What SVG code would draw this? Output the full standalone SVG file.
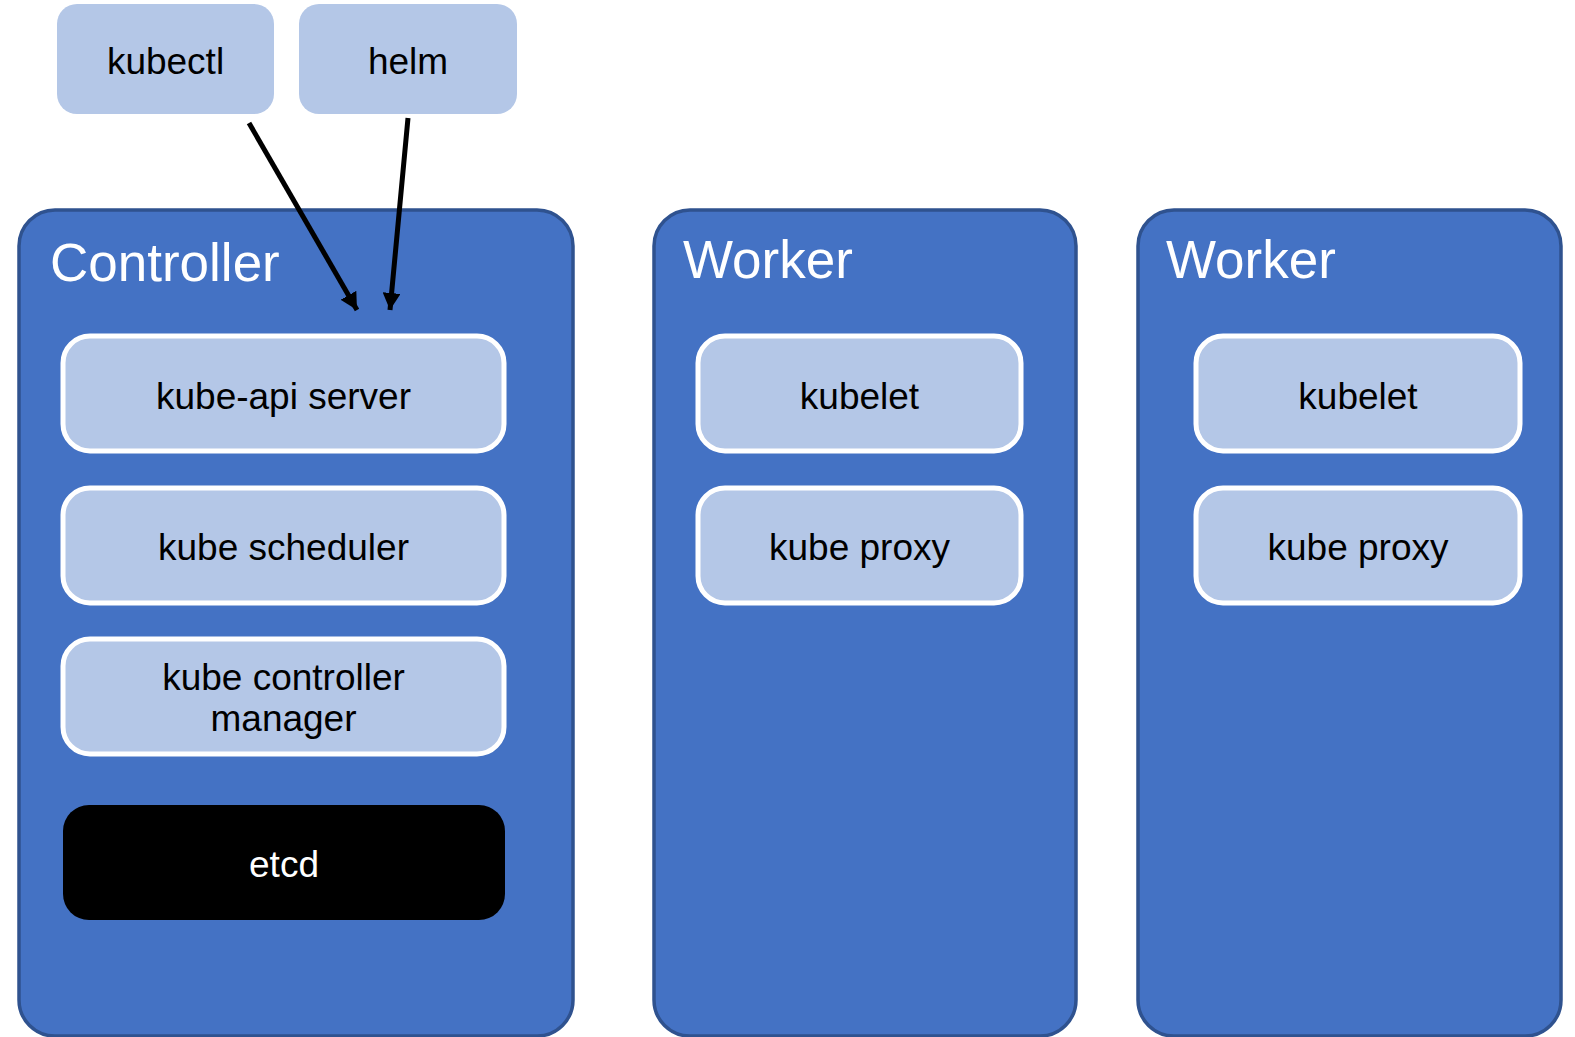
<svg xmlns="http://www.w3.org/2000/svg" width="1575" height="1037" viewBox="0 0 1575 1037">
<style>
.tool{fill:#B4C7E7;}
.host{fill:#4472C4;stroke:#2F528F;stroke-width:3.5;}
.comp{fill:#B4C7E7;stroke:#FFFFFF;stroke-width:5;}
.store{fill:#000000;}
.lbl{font-family:"Liberation Sans",Arial,sans-serif;font-size:37px;fill:#000;text-anchor:middle;}
.wlbl{font-family:"Liberation Sans",Arial,sans-serif;font-size:37px;fill:#fff;text-anchor:middle;}
.title{font-family:"Liberation Sans",Arial,sans-serif;font-size:53px;fill:#fff;}
.conn{stroke:#000;stroke-width:5;fill:none;marker-end:url(#arr);}
</style>
<defs>
<marker id="arr" markerUnits="userSpaceOnUse" markerWidth="17" markerHeight="18" viewBox="0 0 17 18" refX="17" refY="9" orient="auto">
<path d="M0,0 L17,9 L0,18 Z" fill="#000"/>
</marker>
</defs>
<g id="controller">
<rect class="host" x="19" y="210" width="554" height="826" rx="36"/>
<text class="title" x="50" y="281">Controller</text>
</g>
<g id="worker1">
<rect class="host" x="654" y="210" width="422" height="826" rx="36"/>
<text class="title" x="683" y="278">Worker</text>
</g>
<g id="worker2">
<rect class="host" x="1138" y="210" width="423" height="826" rx="36"/>
<text class="title" x="1166" y="278">Worker</text>
</g>
<g id="kubectl">
<rect class="tool" x="57" y="4" width="217" height="110" rx="20"/>
<text class="lbl" x="165.5" y="74">kubectl</text>
</g>
<g id="helm">
<rect class="tool" x="299" y="4" width="218" height="110" rx="20"/>
<text class="lbl" x="408" y="74">helm</text>
</g>
<g id="kube-api-server">
<rect class="comp" x="63" y="336" width="441" height="115" rx="27"/>
<text class="lbl" x="283.5" y="409">kube-api server</text>
</g>
<g id="kube-scheduler">
<rect class="comp" x="63" y="488" width="441" height="115" rx="27"/>
<text class="lbl" x="283.5" y="560">kube scheduler</text>
</g>
<g id="kube-controller-manager">
<rect class="comp" x="63" y="639" width="441" height="115" rx="27"/>
<text class="lbl" x="283.5" y="690">kube controller</text>
<text class="lbl" x="283.5" y="731">manager</text>
</g>
<g id="etcd">
<rect class="store" x="63" y="805" width="442" height="115" rx="26"/>
<text class="wlbl" x="284" y="877">etcd</text>
</g>
<g id="kubelet1">
<rect class="comp" x="698" y="336" width="323" height="115" rx="27"/>
<text class="lbl" x="859.5" y="409">kubelet</text>
</g>
<g id="kube-proxy1">
<rect class="comp" x="698" y="488" width="323" height="115" rx="27"/>
<text class="lbl" x="859.5" y="560">kube proxy</text>
</g>
<g id="kubelet2">
<rect class="comp" x="1196" y="336" width="324" height="115" rx="27"/>
<text class="lbl" x="1358" y="409">kubelet</text>
</g>
<g id="kube-proxy2">
<rect class="comp" x="1196" y="488" width="324" height="115" rx="27"/>
<text class="lbl" x="1358" y="560">kube proxy</text>
</g>
<g id="connectors">
<line class="conn" x1="249" y1="123" x2="357" y2="310"/>
<line class="conn" x1="408" y1="118" x2="390" y2="310"/>
</g>
</svg>
